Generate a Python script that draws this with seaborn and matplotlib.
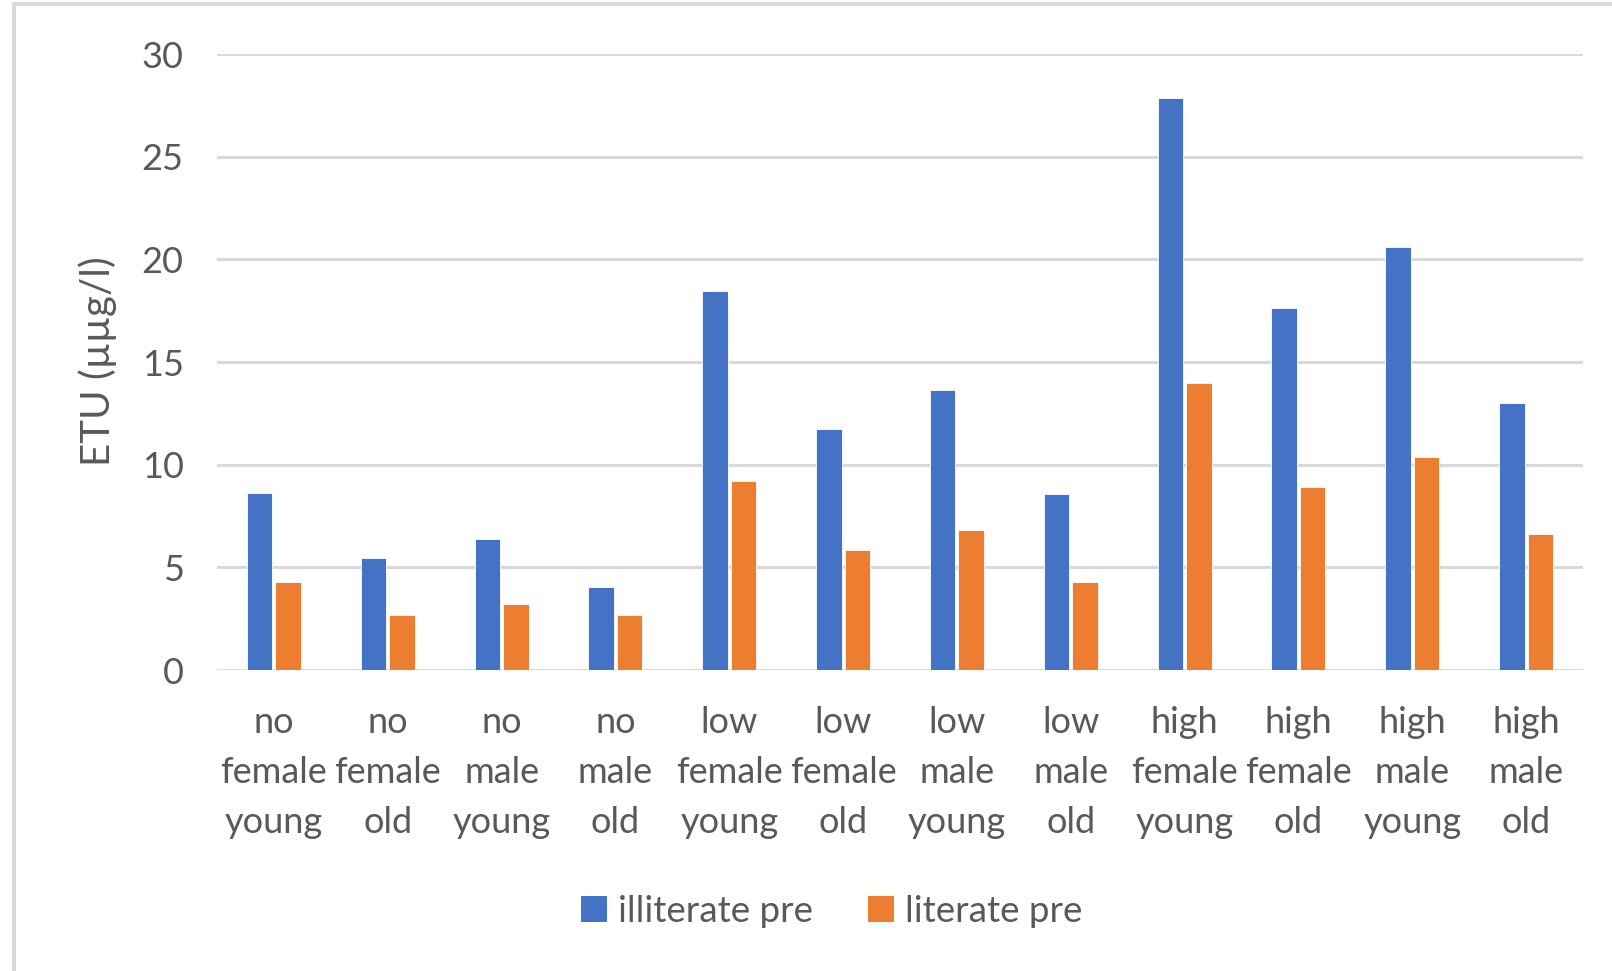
import matplotlib
matplotlib.use("Agg")
import matplotlib.pyplot as plt
from matplotlib.lines import Line2D
from matplotlib.patches import Patch
import seaborn as sns
import pandas as pd

# Groups: education level / sex / age
education = ["no", "no", "no", "no", "low", "low", "low", "low",
             "high", "high", "high", "high"]
sex = ["female", "female", "male", "male"] * 3
age = ["young", "old"] * 6

series_names = ["illiterate pre", "literate pre"]
illiterate_pre = [8.62, 5.45, 6.39, 4.06, 18.47, 11.74, 13.64, 8.59,
                  27.85, 17.65, 20.62, 13.02]
literate_pre = [4.28, 2.70, 3.23, 2.70, 9.21, 5.85, 6.80, 4.27,
                13.96, 8.91, 10.39, 6.64]

y_ticks = [0, 5, 10, 15, 20, 25, 30]
y_label = "ETU (µµg/l)"

colors = ["#4472C4", "#ED7D31"]
text_color = "#595959"
grid_color = "#D9D9D9"

categories = [f"{e}\n{s}\n{a}" for e, s, a in zip(education, sex, age)]
df = pd.DataFrame({
    "category": categories * 2,
    "value": illiterate_pre + literate_pre,
    "series": [series_names[0]] * len(categories) + [series_names[1]] * len(categories),
})

sns.set_style("white")
plt.rcParams["font.family"] = ["Lato", "DejaVu Sans"]

W, H = 1612, 971
fig = plt.figure(figsize=(W / 100, H / 100), dpi=100)
ax = fig.add_axes([217 / W, 1 - 670 / H, (1583 - 217) / W, (670 - 54) / H])

sns.barplot(data=df, x="category", y="value", hue="series",
            order=categories, hue_order=series_names, palette=colors,
            width=0.5, gap=0.1, saturation=1, ax=ax, legend=False,
            edgecolor="white", linewidth=0.6, zorder=3)

ax.set_xlim(-0.5, len(categories) - 0.5)
ax.set_ylim(0, 30)
ax.set_yticks(y_ticks)
ax.yaxis.grid(True, color=grid_color, linewidth=2.2, zorder=0)
ax.set_axisbelow(True)
for sp in ax.spines.values():
    sp.set_visible(False)
ax.set_xlabel("")
ax.set_ylabel("")
ax.tick_params(axis="y", length=0, pad=24, labelsize=26, labelcolor=text_color)
ax.tick_params(axis="x", length=0, pad=26, labelsize=26, labelcolor=text_color)
for lbl in ax.get_xticklabels():
    lbl.set_linespacing(1.63)

fig.text(98 / W, 1 - 361 / H, y_label, rotation=90, ha="center", va="center",
         fontsize=29, color=text_color)

handles = [Patch(facecolor=c, edgecolor="none") for c in colors]
fig.legend(handles, series_names, loc="center", ncol=2,
           bbox_to_anchor=(832 / W, 1 - 911 / H), frameon=False,
           fontsize=26.5, labelcolor=text_color, handlelength=0.7,
           handleheight=0.7, handletextpad=0.3, columnspacing=1.5)

# chart area border (left and top edges)
fig.add_artist(Line2D([14 / W, 14 / W], [0, 1 - 4.5 / H], color=grid_color,
                      linewidth=3, transform=fig.transFigure))
fig.add_artist(Line2D([14 / W, 1], [1 - 4.5 / H, 1 - 4.5 / H], color=grid_color,
                      linewidth=3, transform=fig.transFigure))

fig.savefig("out.png", dpi=100, facecolor="white")
